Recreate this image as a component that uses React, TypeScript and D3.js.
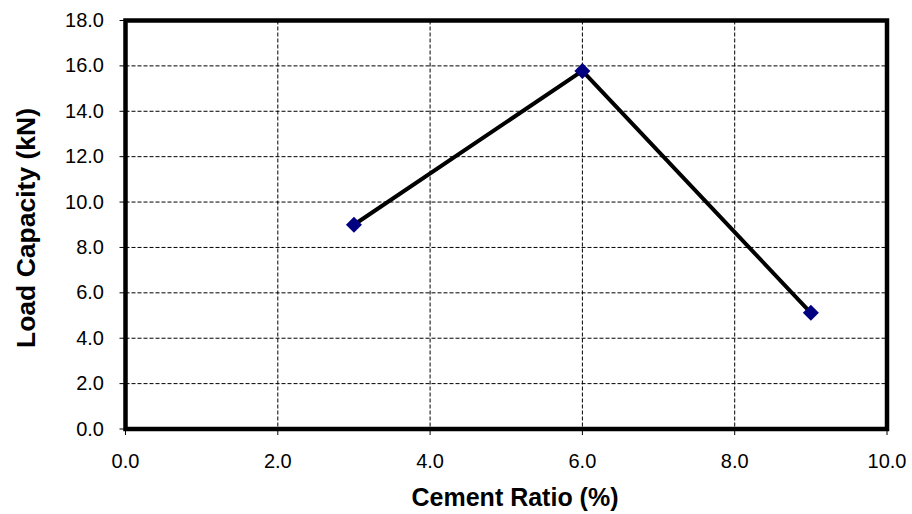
import React from "react";
import * as d3 from "d3";

const xValues = [3, 6, 9];
const yValues = [9.0, 15.78, 5.12];
const xTicks = [0, 2, 4, 6, 8, 10];
const yTicks = [0, 2, 4, 6, 8, 10, 12, 14, 16, 18];
const xTitle = "Cement Ratio (%)";
const yTitle = "Load Capacity (kN)";

export default function App() {
  const W = 912, H = 514;
  const left = 125.5, right = 887, top = 20.5, bottom = 429;
  const x = d3.scaleLinear().domain([0, 10]).range([left, right]);
  const y = d3.scaleLinear().domain([0, 18]).range([bottom, top]);
  const pts = xValues.map((v, i) => [x(v), y(yValues[i])] as [number, number]);
  const line = d3.line()(pts) || "";
  const font = "'Liberation Sans', Arial, sans-serif";
  return (
    <svg width={W} height={H} style={{ position: "absolute", left: 0, top: 0, background: "#fff" }}>
      {yTicks.slice(1, -1).map((t) => (
        <line key={"gy" + t} x1={left} x2={right} y1={y(t)} y2={y(t)} stroke="#000" strokeWidth={1} strokeDasharray="4,2" />
      ))}
      {xTicks.slice(1, -1).map((t) => (
        <line key={"gx" + t} y1={top} y2={bottom} x1={x(t)} x2={x(t)} stroke="#000" strokeWidth={1} strokeDasharray="4,2" />
      ))}
      {yTicks.map((t) => (
        <g key={"ty" + t}>
          <line x1={left - 6} x2={left} y1={y(t)} y2={y(t)} stroke="#000" strokeWidth={1} />
          <text x={104} y={y(t) + 6.5} textAnchor="end" fontFamily={font} fontSize={20} fill="#000">
            {t.toFixed(1)}
          </text>
        </g>
      ))}
      {xTicks.map((t) => (
        <g key={"tx" + t}>
          <line y1={bottom} y2={bottom + 6} x1={x(t)} x2={x(t)} stroke="#000" strokeWidth={1} />
          <text x={x(t)} y={468} textAnchor="middle" fontFamily={font} fontSize={20} fill="#000">
            {t.toFixed(1)}
          </text>
        </g>
      ))}
      <rect x={left} y={top} width={right - left} height={bottom - top} fill="none" stroke="#000" strokeWidth={4.5} />
      <path d={line} fill="none" stroke="#000" strokeWidth={4} />
      {pts.map((p, i) => (
        <path key={"m" + i} d={`M${p[0]},${p[1] - 8}L${p[0] + 8},${p[1]}L${p[0]},${p[1] + 8}L${p[0] - 8},${p[1]}Z`} fill="#000080" />
      ))}
      <text x={515} y={506} textAnchor="middle" fontFamily={font} fontSize={25} fontWeight="bold" fill="#000">
        {xTitle}
      </text>
      <text transform={`translate(35,228) rotate(-90)`} textAnchor="middle" fontFamily={font} fontSize={26.5} fontWeight="bold" fill="#000">
        {yTitle}
      </text>
    </svg>
  );
}
